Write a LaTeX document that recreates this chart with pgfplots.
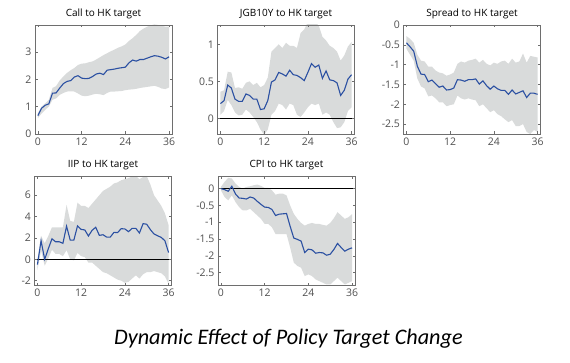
\documentclass[border=0pt]{standalone}
\usepackage{pgfplots}
\pgfplotsset{compat=1.18}
\usepackage{pgfplotstable}
\usepackage{fontspec}
\setmainfont{Open Sans}
\newfontfamily\titlefont{Carlito}
\definecolor{bandgray}{HTML}{D9DBDB}
\definecolor{irf}{HTML}{2B50A2}
\definecolor{axgray}{HTML}{6E6E6E}
\definecolor{tickgray}{HTML}{505050}

\pgfplotstableread{
x mid lo hi
0 0.67 0.58 0.76
1 0.94 0.75 1.00
2 1.05 0.88 1.12
3 1.10 1.00 1.25
4 1.49 1.25 1.68
5 1.50 1.30 1.75
6 1.68 1.43 1.96
7 1.84 1.50 2.10
8 1.92 1.55 2.23
9 1.95 1.56 2.33
10 2.08 1.55 2.41
11 2.13 1.48 2.52
12 2.04 1.40 2.57
13 2.02 1.38 2.58
14 2.03 1.40 2.62
15 2.10 1.44 2.65
16 2.19 1.47 2.72
17 2.22 1.45 2.80
18 2.17 1.42 2.88
19 2.33 1.50 2.95
20 2.35 1.55 3.02
21 2.37 1.55 3.08
22 2.40 1.56 3.15
23 2.42 1.57 3.20
24 2.44 1.60 3.27
25 2.60 1.62 3.40
26 2.70 1.63 3.50
27 2.66 1.65 3.62
28 2.72 1.68 3.76
29 2.72 1.70 3.85
30 2.77 1.72 3.92
31 2.82 1.74 3.97
32 2.86 1.76 4.00
33 2.84 1.72 3.98
34 2.80 1.66 3.95
35 2.74 1.64 3.92
36 2.82 1.70 3.92
}\tcall

\pgfplotstableread{
x mid lo hi
0 0.20 0.05 0.36
1 0.24 0.10 0.38
2 0.45 0.25 0.63
3 0.41 0.18 0.62
4 0.26 0.08 0.41
5 0.23 0.04 0.42
6 0.23 0.05 0.40
7 0.33 0.12 0.48
8 0.31 0.08 0.50
9 0.26 0.02 0.45
10 0.26 -0.05 0.48
11 0.12 -0.15 0.42
12 0.13 -0.22 0.45
13 0.24 -0.15 0.55
14 0.49 0.05 0.90
15 0.52 0.10 0.95
16 0.62 0.20 1.00
17 0.60 0.18 0.95
18 0.57 0.12 1.02
19 0.65 0.20 0.98
20 0.59 0.18 0.98
21 0.58 0.05 0.95
22 0.55 0.02 1.15
23 0.51 0.08 1.20
24 0.62 0.15 1.30
25 0.74 0.20 1.32
26 0.69 0.18 1.30
27 0.72 0.20 1.25
28 0.54 0.05 1.10
29 0.64 0.08 1.05
30 0.52 0.05 0.98
31 0.51 -0.05 0.95
32 0.48 -0.13 0.90
33 0.31 -0.12 0.78
34 0.38 -0.05 0.85
35 0.53 0.10 0.97
36 0.59 0.15 1.03
}\tjgb

\pgfplotstableread{
x mid lo hi
0 -0.45 -0.60 -0.28
1 -0.55 -0.75 -0.35
2 -0.66 -0.90 -0.45
3 -1.04 -1.35 -0.75
4 -1.24 -1.55 -0.90
5 -1.25 -1.60 -0.92
6 -1.43 -1.80 -1.05
7 -1.39 -1.78 -1.05
8 -1.48 -1.85 -1.15
9 -1.57 -1.95 -1.20
10 -1.54 -1.95 -1.22
11 -1.64 -2.05 -1.28
12 -1.63 -2.02 -1.25
13 -1.59 -2.00 -1.20
14 -1.38 -1.78 -0.98
15 -1.39 -1.85 -0.92
16 -1.42 -1.88 -0.95
17 -1.38 -1.85 -0.90
18 -1.38 -1.88 -0.88
19 -1.36 -1.90 -0.85
20 -1.49 -2.05 -0.95
21 -1.41 -2.00 -0.88
22 -1.53 -2.10 -0.98
23 -1.62 -2.20 -1.02
24 -1.54 -2.15 -0.95
25 -1.61 -2.25 -0.98
26 -1.65 -2.30 -0.92
27 -1.65 -2.38 -0.90
28 -1.75 -2.45 -0.98
29 -1.64 -2.40 -0.85
30 -1.74 -2.55 -0.95
31 -1.70 -2.55 -0.92
32 -1.66 -2.50 -0.72
33 -1.83 -2.70 -0.95
34 -1.72 -2.75 -0.78
35 -1.72 -2.65 -0.80
36 -1.75 -2.70 -0.82
}\tspread

\pgfplotstableread{
x mid lo hi
0 -0.50 -1.00 -0.10
1 1.73 0.80 2.20
2 0.00 -0.60 1.50
3 1.00 0.10 2.20
4 1.92 0.90 3.00
5 1.64 0.50 3.00
6 1.64 0.50 3.00
7 1.50 0.30 3.00
8 3.10 0.85 5.10
9 1.80 0.00 3.60
10 1.80 -0.10 3.50
11 3.12 0.60 5.30
12 2.80 0.30 5.00
13 2.75 0.20 5.00
14 2.18 -0.30 4.80
15 2.71 -0.30 5.20
16 3.00 -0.60 5.60
17 2.24 -0.90 6.00
18 2.30 -1.20 6.40
19 2.08 -1.30 6.60
20 2.08 -1.50 6.80
21 2.52 -1.70 7.10
22 2.50 -1.90 7.20
23 2.87 -2.00 7.40
24 2.84 -2.20 7.50
25 2.59 -2.10 7.60
26 2.90 -1.80 7.75
27 2.90 -1.50 7.80
28 2.46 -1.80 7.50
29 3.34 -1.40 7.70
30 3.28 -1.20 7.80
31 2.78 -1.20 7.00
32 2.37 -1.10 6.00
33 2.20 -1.20 5.50
34 2.05 -1.30 5.00
35 1.73 -1.60 4.30
36 0.63 -2.30 3.20
}\tiip

\pgfplotstableread{
x mid lo hi
0 0.00 -0.05 0.05
1 -0.03 -0.25 0.20
2 -0.08 -0.35 0.32
3 0.07 -0.20 0.30
4 -0.16 -0.40 0.15
5 -0.28 -0.55 0.05
6 -0.29 -0.65 0.00
7 -0.31 -0.65 0.05
8 -0.25 -0.60 0.07
9 -0.28 -0.70 0.10
10 -0.38 -0.80 0.12
11 -0.47 -0.90 0.08
12 -0.55 -1.05 0.02
13 -0.56 -1.05 0.02
14 -0.62 -1.15 -0.05
15 -0.80 -1.35 -0.18
16 -0.76 -1.35 -0.15
17 -0.75 -1.35 -0.15
18 -0.74 -1.35 -0.20
19 -1.12 -1.75 -0.50
20 -1.47 -2.20 -0.75
21 -1.51 -2.30 -0.90
22 -1.56 -2.35 -1.02
23 -1.90 -2.60 -1.10
24 -1.80 -2.55 -1.05
25 -1.82 -2.60 -1.02
26 -1.92 -2.70 -1.05
27 -1.90 -2.75 -1.05
28 -1.91 -2.80 -1.08
29 -1.98 -2.85 -1.10
30 -1.95 -2.85 -1.02
31 -1.81 -2.75 -0.88
32 -1.63 -2.65 -0.70
33 -1.75 -2.75 -0.80
34 -1.86 -2.85 -0.90
35 -1.80 -2.80 -0.85
36 -1.76 -2.75 -0.76
}\tcpi

\pgfplotsset{
  irfpanel/.style={
    scale only axis, width=137pt, height=109pt,
    xmin=-0.8, xmax=36.8, xtick={0,12,24,36},
    axis line style={axgray, line width=0.6pt},
    tick style={axgray, line width=0.5pt},
    tick align=inside, major tick length=2.5pt,
    /pgf/number format/assume math mode=true,
    ticklabel style={font=\fontsize{10.5}{12}\selectfont, text=tickgray},
    title style={font=\fontsize{10}{12}\selectfont, at={(0.5,1)}, anchor=base, yshift=2.5pt},
    axis on top,
  },
  bandlow/.style={draw=none, stack plots=y, forget plot},
  bandfill/.style={fill=bandgray, draw=none, stack plots=y},
  irfline/.style={irf, line width=1.1pt, stack plots=false},
  zeroline/.style={black, line width=0.9pt, stack plots=false},
}

\begin{document}
\begin{tikzpicture}
\path[use as bounding box] (0pt,0pt) rectangle (570pt,363pt);

\begin{axis}[irfpanel, at={(35pt,229pt)}, anchor=south west,
  title={Call to HK target}, ymin=0, ymax=3.98, ytick={0,1,2,3}]
  \addplot[bandlow] table[x=x,y=lo]{\tcall};
  \addplot[bandfill] table[x=x,y expr=\thisrow{hi}-\thisrow{lo}]{\tcall} \closedcycle;
  \addplot[irfline] table[x=x,y=mid]{\tcall};
\end{axis}

\begin{axis}[irfpanel, at={(217.5pt,229pt)}, anchor=south west,
  title={JGB10Y to HK target}, ymin=-0.21, ymax=1.26, ytick={0,0.5,1}]
  \addplot[bandlow] table[x=x,y=lo]{\tjgb};
  \addplot[bandfill] table[x=x,y expr=\thisrow{hi}-\thisrow{lo}]{\tjgb} \closedcycle;
  \addplot[zeroline] coordinates {(-0.8,0) (36.8,0)};
  \addplot[irfline] table[x=x,y=mid]{\tjgb};
\end{axis}

\begin{axis}[irfpanel, at={(403.5pt,229pt)}, anchor=south west,
  title={Spread to HK target}, ymin=-2.75, ymax=0, ytick={-2.5,-2,-1.5,-1,-0.5,0}]
  \addplot[bandlow] table[x=x,y=lo]{\tspread};
  \addplot[bandfill] table[x=x,y expr=\thisrow{hi}-\thisrow{lo}]{\tspread} \closedcycle;
  \addplot[irfline] table[x=x,y=mid]{\tspread};
\end{axis}

\begin{axis}[irfpanel, at={(34.5pt,77.5pt)}, anchor=south west,
  title={IIP to HK target}, ymin=-2.45, ymax=7.75, ytick={-2,0,2,4,6}]
  \addplot[bandlow] table[x=x,y=lo]{\tiip};
  \addplot[bandfill] table[x=x,y expr=\thisrow{hi}-\thisrow{lo}]{\tiip} \closedcycle;
  \addplot[zeroline] coordinates {(-0.8,0) (36.8,0)};
  \addplot[irfline] table[x=x,y=mid]{\tiip};
\end{axis}

\begin{axis}[irfpanel, at={(218pt,77.5pt)}, anchor=south west,
  title={CPI to HK target}, ymin=-2.88, ymax=0.36, ytick={-2.5,-2,-1.5,-1,-0.5,0}]
  \addplot[bandlow] table[x=x,y=lo]{\tcpi};
  \addplot[bandfill] table[x=x,y expr=\thisrow{hi}-\thisrow{lo}]{\tcpi} \closedcycle;
  \addplot[zeroline] coordinates {(-0.8,0) (36.8,0)};
  \addplot[irfline] table[x=x,y=mid]{\tcpi};
\end{axis}

\node[anchor=base, font=\titlefont\itshape\fontsize{22.2}{26}\selectfont] at (288.5pt,18.7pt) {Dynamic Effect of Policy Target Change};
\end{tikzpicture}
\end{document}
